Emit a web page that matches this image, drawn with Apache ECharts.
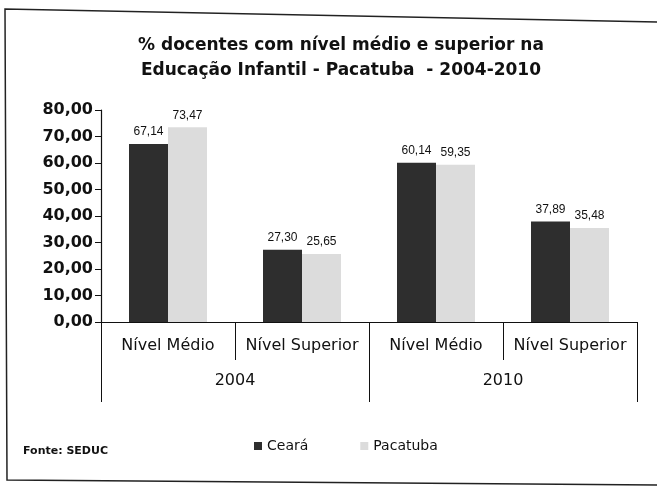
<!DOCTYPE html>
<html>
<head>
<meta charset="utf-8">
<script src="https://cdn.jsdelivr.net/npm/echarts@6/dist/echarts.min.js"></script>
<style>html,body{margin:0;padding:0;background:#fff}#c{width:657px;height:489px}</style>
</head>
<body>
<div id="c"></div>
<script>
var categories = ['Nível Médio', 'Nível Superior', 'Nível Médio', 'Nível Superior'];
var years = ['2004', '2010'];
var ceara = [67.14, 27.30, 60.14, 37.89];
var pacatuba = [73.47, 25.65, 59.35, 35.48];
var seriesNames = ['Ceará', 'Pacatuba'];
var titleText = '% docentes com nível médio e superior na\nEducação Infantil - Pacatuba  - 2004-2010';
var sourceText = 'Fonte: SEDUC';

function fmt(v) { return Number(v).toFixed(2).replace('.', ','); }

var chart = echarts.init(document.getElementById('c'));
var labelCfg = {
  show: true, position: 'top', distance: 6,
  fontFamily: 'Liberation Sans', fontSize: 12, color: '#111',
  formatter: function (p) { return fmt(p.value); }
};
chart.setOption({
  animation: false,
  backgroundColor: '#fff',
  title: {
    text: titleText, left: 336, top: 28, textAlign: 'center',
    textStyle: { fontFamily: 'DejaVu Sans', fontWeight: 'bold', fontSize: 17, lineHeight: 25, color: '#111' }
  },
  legend: {
    data: seriesNames, left: 249, top: 434, icon: 'rect', itemWidth: 8, itemHeight: 8, itemGap: 52,
    textStyle: { fontFamily: 'DejaVu Sans', fontSize: 14, color: '#111' }
  },
  grid: { left: 101, right: 20, top: 110, bottom: 167, containLabel: false },
  xAxis: [
    {
      type: 'category', data: categories, position: 'bottom',
      axisLine: { show: true, lineStyle: { color: '#111', width: 1.2 } },
      axisTick: { show: true, interval: 0, length: 38, lineStyle: { color: '#111' } },
      axisLabel: { interval: 0, margin: 16, fontFamily: 'DejaVu Sans', fontSize: 16, color: '#111' }
    },
    {
      type: 'category', data: years, position: 'bottom', offset: 0,
      axisLine: { show: false },
      axisTick: { show: true, interval: 0, length: 80, lineStyle: { color: '#111' } },
      axisLabel: { interval: 0, margin: 51, fontFamily: 'DejaVu Sans', fontSize: 16, color: '#111' }
    }
  ],
  yAxis: {
    type: 'value', min: 0, max: 80, interval: 10,
    axisLine: { show: true, lineStyle: { color: '#111', width: 1.2 } },
    axisTick: { show: true, length: 6, lineStyle: { color: '#111' } },
    splitLine: { show: false },
    axisLabel: { margin: 8, fontFamily: 'DejaVu Sans', fontWeight: 'bold', fontSize: 16, color: '#111', formatter: fmt }
  },
  series: [
    { name: seriesNames[0], type: 'bar', data: ceara, barWidth: 39, barGap: '0%', itemStyle: { color: '#2e2e2e' }, label: labelCfg },
    { name: seriesNames[1], type: 'bar', data: pacatuba, barWidth: 39, barGap: '0%', itemStyle: { color: '#dcdcdc' }, label: labelCfg }
  ],
  graphic: [
    { type: 'polyline', shape: { points: [[660, 22], [5, 9], [7, 480], [660, 485]] }, style: { stroke: '#222', lineWidth: 1.5, fill: null } },
    { type: 'text', left: 23, top: 446, style: { text: sourceText, font: 'bold 11px "DejaVu Sans"', fill: '#111' } }
  ]
});
</script>
</body>
</html>
